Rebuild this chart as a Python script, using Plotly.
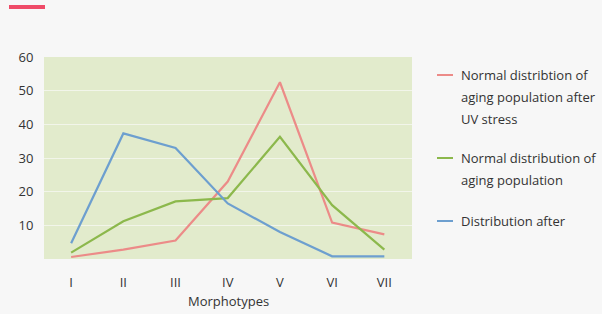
import plotly.graph_objects as go

categories = ["I", "II", "III", "IV", "V", "VI", "VII"]
uv_stress = [0.6, 2.8, 5.5, 23, 52.5, 10.8, 7.3]
normal = [1.9, 11.2, 17.1, 18.1, 36.3, 16, 2.8]
dist_after = [4.7, 37.3, 33, 16.5, 8, 0.8, 0.8]
y_ticks = [10, 20, 30, 40, 50, 60]

series_lines = [
    ["Normal distribtion of", "aging population after", "UV stress"],
    ["Normal distribution of", "aging population"],
    ["Distribution after"],
]
colors = ["#ec8b88", "#8cb84c", "#6d9fcf"]

FONT = "Open Sans"
TXT = "#333333"
L, R, T, B = 44, 412, 57, 259
PW, PH = R - L, B - T

def px(x):
    return (x - L) / PW

def py(y):
    return (B - y) / PH

fig = go.Figure()
xs = list(range(len(categories)))
for vals, lines, col in zip([uv_stress, normal, dist_after], series_lines, colors):
    fig.add_trace(go.Scatter(x=xs, y=vals, mode="lines", name=" ".join(lines),
                             line=dict(color=col, width=2.2), showlegend=False))

# custom legend
legend_y = [75, 158, 221]
for lines, col, yy in zip(series_lines, colors, legend_y):
    fig.add_shape(type="line", xref="paper", yref="paper",
                  x0=px(437), x1=px(453), y0=py(yy), y1=py(yy),
                  line=dict(color=col, width=2))
    for i, ln in enumerate(lines):
        fig.add_annotation(xref="paper", yref="paper", x=px(459),
                           y=py(yy + 22 * i), xanchor="left", yanchor="middle",
                           text=ln, showarrow=False, align="left",
                           font=dict(family=FONT, size=13, color=TXT))

# x axis title
fig.add_annotation(xref="paper", yref="paper", x=px(228), y=py(301),
                   xanchor="center", yanchor="middle", text="Morphotypes",
                   showarrow=False, font=dict(family=FONT, size=13, color=TXT))

# red accent bar
fig.add_shape(type="rect", xref="paper", yref="paper",
              x0=px(9), x1=px(45), y0=py(5), y1=py(9),
              line=dict(width=0), fillcolor="#ef4b68")

fig.update_layout(
    width=602, height=314,
    margin=dict(l=L, r=602 - R, t=T, b=314 - B),
    paper_bgcolor="#f7f7f7", plot_bgcolor="#e2ebcc",
    font=dict(family=FONT, size=13, color=TXT),
    xaxis=dict(tickmode="array", tickvals=xs, ticktext=categories,
               range=[-0.52, 6.53], showgrid=False, zeroline=False,
               ticks="outside", ticklen=11, tickcolor="rgba(0,0,0,0)",
               automargin=False),
    yaxis=dict(tickmode="array", tickvals=y_ticks, range=[0, 60],
               showgrid=True, gridcolor="#f2f5ea", gridwidth=1.2, zeroline=False,
               ticks="outside", ticklen=7, tickcolor="rgba(0,0,0,0)",
               automargin=False),
)

fig.write_html("out.html", config={"displayModeBar": False},
               post_script="document.body.style.margin='0';document.body.style.overflow='hidden';")
